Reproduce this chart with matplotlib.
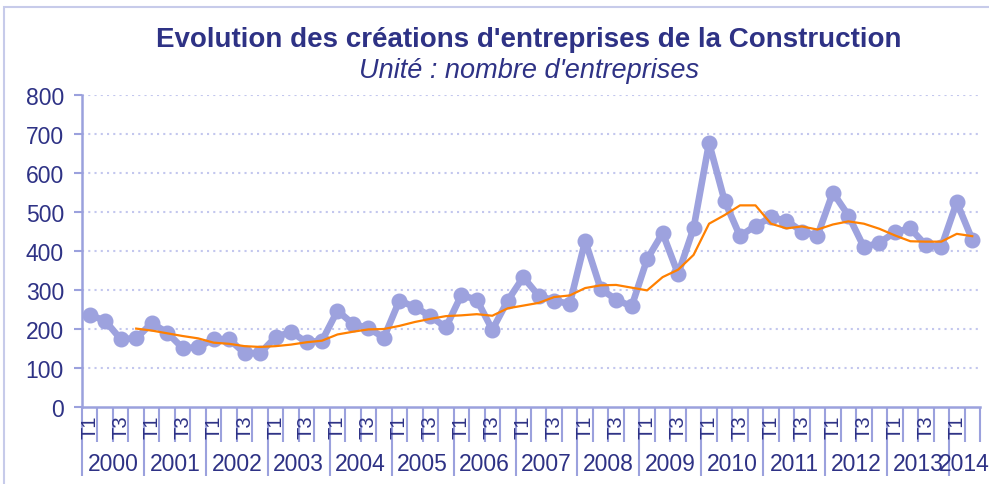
import numpy as np
import matplotlib
matplotlib.use("Agg")
import matplotlib.pyplot as plt
from matplotlib.transforms import blended_transform_factory
from matplotlib.patches import Rectangle

# Quarterly data, 2000 T1 -> 2014 T2
years = [str(y) for y in range(2000, 2015)]
quarters = ["T1", "T2", "T3", "T4"]

creations = [
    236, 221, 174, 176,   # 2000
    215, 191, 151, 153,   # 2001
    174, 174, 138, 138,   # 2002
    179, 193, 166, 170,   # 2003
    247, 213, 202, 178,   # 2004
    273, 256, 233, 204,   # 2005
    287, 275, 198, 273,   # 2006
    333, 285, 273, 264,   # 2007
    426, 303, 275, 258,   # 2008
    379, 446, 341, 458,   # 2009
    677, 529, 438, 465,   # 2010
    486, 478, 450, 439,   # 2011
    550, 491, 410, 421,   # 2012
    448, 458, 415, 410,   # 2013
    525, 429,             # 2014
]

# moving average (orange), starts at 2000 T4
moyenne = [
    np.nan, np.nan, np.nan, 201,
    196, 189, 182, 176,
    165, 162, 156, 154,
    156, 160, 166, 170,
    186, 193, 199, 200,
    208, 218, 226, 233,
    235, 238, 234, 253,
    260, 267, 282, 286,
    305, 312, 313, 306,
    299, 333, 352, 390,
    470, 492, 517, 517,
    470, 458, 463, 455,
    468, 476, 470, 457,
    440, 425, 424, 424,
    444, 438,
]

yticks = list(range(0, 801, 100))

TEXT = "#2e3285"
AXIS = "#9ba1dd"
GRID = "#c3c7ee"
LINE = "#9da2de"
ORANGE = "#ff8000"

plt.rcParams["font.family"] = ["Liberation Sans", "DejaVu Sans"]

fig = plt.figure(figsize=(9.89, 4.85), dpi=100)
ax = fig.add_axes([82 / 989, 1 - 408 / 485, (980 - 82) / 989, (408 - 96) / 485])

n = len(creations)
x = np.arange(n) + 0.5
ax.plot(x, creations, color=LINE, lw=4.8, marker="o", ms=10.5,
        solid_joinstyle="round", zorder=3)
ax.plot(x, moyenne, color=ORANGE, lw=1.6, zorder=4)

ax.set_xlim(0, n)
ax.set_ylim(0, 800)
ax.set_yticks(yticks)
ax.tick_params(axis="y", direction="out", length=6, width=1.5, color=AXIS,
               labelsize=16.5, labelcolor=TEXT, pad=7)
for v in yticks[1:]:
    ax.axhline(v, color=GRID, lw=1.5, ls=(0, (1, 2)), zorder=1)

for s in ["top", "right"]:
    ax.spines[s].set_visible(False)
for s in ["left", "bottom"]:
    ax.spines[s].set_color(AXIS)
    ax.spines[s].set_linewidth(1.8)

# category separators: short at each quarter, long at each year
ax.set_xticks(np.arange(0, n + 1, 4))
ax.set_xticks(np.arange(0, n + 1), minor=True)
ax.set_xticklabels([])
ax.tick_params(axis="x", which="major", direction="out", length=50, width=1.5, color=AXIS)
ax.tick_params(axis="x", which="minor", direction="out", length=25, width=1.5, color=AXIS)

trans = blended_transform_factory(ax.transData, ax.transAxes)
for i in range(n):
    q = quarters[i % 4]
    if q in ("T1", "T3"):
        ax.text(i + 0.5, -0.025, q, transform=trans, rotation=90, ha="center",
                va="top", fontsize=14.5, color=TEXT)
for k, yr in enumerate(years):
    start = 4 * k
    end = min(4 * k + 4, n)
    ax.text((start + end) / 2, -0.18, yr, transform=trans, ha="center",
            va="center", fontsize=16.5, color=TEXT, clip_on=False)

fig.text(0.535, 1 - 40 / 485, "Evolution des créations d'entreprises de la Construction",
         ha="center", va="center", fontsize=20, fontweight="bold", color=TEXT)
fig.text(0.535, 1 - 71 / 485, "Unité : nombre d'entreprises",
         ha="center", va="center", fontsize=19.5, style="italic", color=TEXT)

# chart frame
fig.patches.append(Rectangle((4 / 989, -0.1), 1.2, 1 - 8 / 485 + 0.1,
                             transform=fig.transFigure, fill=False,
                             edgecolor="#c7cbea", lw=1.5))

fig.savefig("out.png", dpi=100)
